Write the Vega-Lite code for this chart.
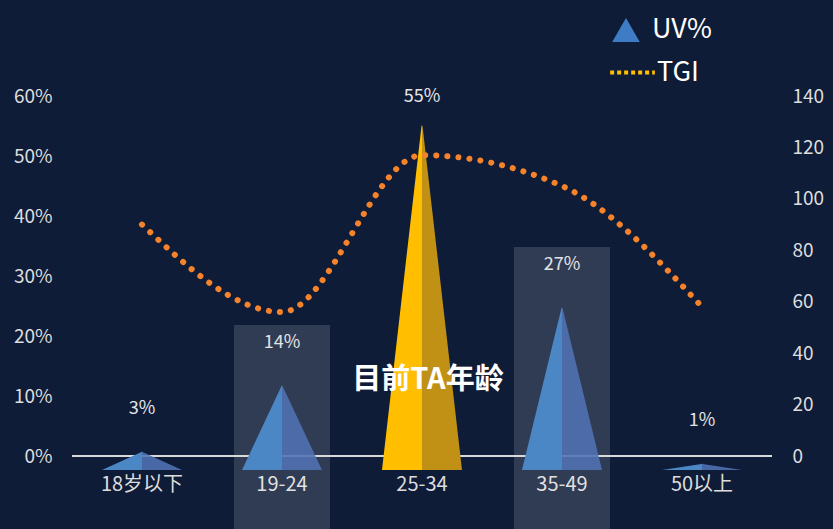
{
  "$schema": "https://vega.github.io/schema/vega-lite/v6.json",
  "width": 700,
  "height": 374,
  "autosize": "none",
  "padding": {"left": 72, "top": 96, "right": 61, "bottom": 59},
  "background": "#0f1c38",
  "config": {
    "view": {"stroke": null},
    "font": "Noto Sans CJK SC"
  },
  "title": {
    "text": "目前TA年龄",
    "orient": "top",
    "anchor": "middle",
    "fontSize": 29,
    "fontWeight": "bold",
    "color": "#ffffff",
    "font": "Noto Sans CJK SC",
    "dy": 383,
    "dx": 6
  },
  "data": {
    "values": [
      {"age": "18岁以下", "uv": 3, "tgi": 90, "hl": false},
      {"age": "19-24", "uv": 14, "tgi": 56, "hl": true},
      {"age": "25-34", "uv": 55, "tgi": 117, "hl": false},
      {"age": "35-49", "uv": 27, "tgi": 105, "hl": true},
      {"age": "50以上", "uv": 1, "tgi": 58, "hl": false}
    ]
  },
  "layer": [
    {
      "layer": [
        {
          "transform": [{"filter": "datum.hl"}],
          "mark": {"type": "bar", "width": 96, "color": "rgba(255,255,255,0.14)", "yOffset": -47},
          "encoding": {
            "x": {
              "field": "age",
              "type": "nominal",
              "title": null,
              "scale": {"domain": ["18岁以下", "19-24", "25-34", "35-49", "50以上"]},
              "axis": {
                "orient": "bottom",
                "domain": false,
                "ticks": false,
                "labelAngle": 0,
                "labelPadding": 4,
                "labelFontSize": 20,
                "labelColor": "#dddddd",
                "labelFont": "Noto Sans CJK SC"
              }
            },
            "y": {
              "field": "uv",
              "type": "quantitative",
              "title": null,
              "scale": {"domain": [-2.3333, 60], "nice": false, "zero": false},
              "axis": {
                "orient": "left",
                "values": [0, 10, 20, 30, 40, 50, 60],
                "labelExpr": "datum.value + '%'",
                "grid": false,
                "domain": false,
                "ticks": false,
                "labelPadding": 20,
                "labelFontSize": 19,
                "labelColor": "#dddddd",
                "labelFont": "Noto Sans CJK SC"
              }
            },
            "y2": {"datum": -30}
          }
        },
        {
          "mark": {"type": "rule", "color": "#d9d9d9", "strokeWidth": 2},
          "encoding": {"y": {"datum": 0}}
        },
        {
          "transform": [
            {"filter": "datum.age != '25-34'"},
            {"fold": ["uv"], "as": ["part", "v"]},
            {"impute": "v", "key": "part", "keyvals": ["uv", "base"], "groupby": ["age"], "value": 0}
          ],
          "mark": {
            "type": "trail",
            "clip": true,
            "yOffset": 14,
            "fill": {
              "gradient": "linear",
              "x1": 0, "y1": 0, "x2": 1, "y2": 0,
              "stops": [
                {"offset": 0, "color": "#4a87c4"},
                {"offset": 0.5, "color": "#4a87c4"},
                {"offset": 0.5, "color": "rgba(80,114,180,0.88)"},
                {"offset": 1, "color": "rgba(80,114,180,0.88)"}
              ]
            }
          },
          "encoding": {
            "x": {"field": "age", "type": "nominal"},
            "y": {"field": "v", "type": "quantitative"},
            "size": {"field": "part", "type": "nominal", "scale": {"domain": ["uv", "base"], "range": [0, 80]}, "legend": null},
            "detail": {"field": "age"}
          }
        },
        {
          "transform": [
            {"filter": "datum.age == '25-34'"},
            {"fold": ["uv"], "as": ["part", "v"]},
            {"impute": "v", "key": "part", "keyvals": ["uv", "base"], "groupby": ["age"], "value": -2.3333}
          ],
          "mark": {
            "type": "trail",
            "clip": true,
            "fill": {
              "gradient": "linear",
              "x1": 0, "y1": 0, "x2": 1, "y2": 0,
              "stops": [
                {"offset": 0, "color": "#ffbf00"},
                {"offset": 0.5, "color": "#ffbf00"},
                {"offset": 0.5, "color": "#c09114"},
                {"offset": 1, "color": "#c09114"}
              ]
            }
          },
          "encoding": {
            "x": {"field": "age", "type": "nominal"},
            "y": {"field": "v", "type": "quantitative"},
            "size": {"field": "part", "type": "nominal", "scale": {"domain": ["uv", "base"], "range": [0, 80]}, "legend": null},
            "detail": {"field": "age"}
          }
        },
        {
          "mark": {"type": "text", "dy": -29, "fontSize": 18, "color": "#e4e4e4", "font": "Noto Sans CJK SC", "text": {"expr": "datum.uv + '%'"}},
          "encoding": {
            "x": {"field": "age", "type": "nominal"},
            "y": {"field": "uv", "type": "quantitative"}
          }
        },
        {
          "transform": [{"filter": "false"}],
          "mark": {"type": "point", "filled": true, "shape": "triangle-up"},
          "encoding": {
            "fill": {
              "datum": "UV%",
              "scale": {"range": ["#3f7cc6"]},
              "legend": {
                "title": null,
                "orient": "none",
                "legendX": 540,
                "legendY": -80,
                "symbolType": "triangle-up",
                "symbolSize": 760,
                "symbolStrokeWidth": 0,
                "symbolOpacity": 1,
                "labelFontSize": 27,
                "labelColor": "#ffffff",
                "labelOffset": 12,
                "labelFont": "Noto Sans CJK SC"
              }
            }
          }
        },
        {
          "transform": [{"filter": "false"}],
          "mark": {"type": "line"},
          "encoding": {
            "stroke": {
              "datum": "TGI",
              "scale": {"range": ["#ffbe00"]},
              "legend": {
                "title": null,
                "orient": "none",
                "legendX": 536,
                "legendY": -48,
                "symbolType": "stroke",
                "symbolSize": 2000,
                "symbolStrokeWidth": 4,
                "symbolDash": [4, 3],
                "labelFontSize": 27,
                "labelColor": "#ffffff",
                "labelOffset": 0,
                "labelFont": "Noto Sans CJK SC"
              }
            }
          }
        }
      ]
    },
    {
      "mark": {"type": "line", "interpolate": "monotone", "strokeDash": [0.1, 11], "strokeCap": "round", "strokeWidth": 6, "stroke": "#f5832b"},
      "encoding": {
        "x": {"field": "age", "type": "nominal"},
        "y": {
          "field": "tgi",
          "type": "quantitative",
          "title": null,
          "scale": {"domain": [-5.4444, 140], "nice": false, "zero": false},
          "axis": {
            "orient": "right",
            "values": [0, 20, 40, 60, 80, 100, 120, 140],
            "grid": false,
            "domain": false,
            "ticks": false,
            "labelPadding": 20,
            "labelFontSize": 19,
            "labelColor": "#dddddd",
            "labelFont": "Noto Sans CJK SC"
          }
        }
      }
    }
  ],
  "resolve": {"scale": {"y": "independent", "fill": "independent", "stroke": "independent"}}
}
